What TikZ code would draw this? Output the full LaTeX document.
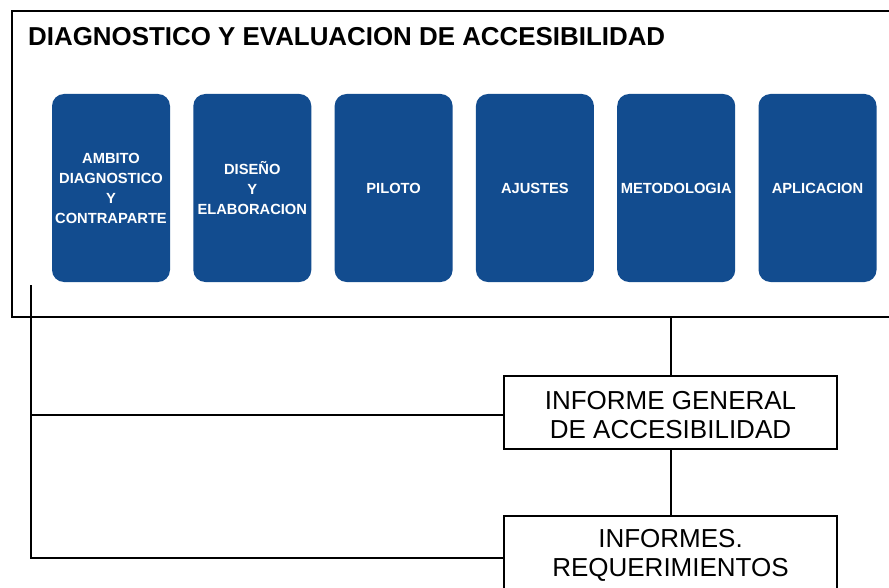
\documentclass[tikz,border=0pt]{standalone}
\usepackage{fontspec}
\setmainfont{Liberation Sans}
\definecolor{boxblue}{RGB}{18,76,143}
\begin{document}
\begin{tikzpicture}[x=1pt,y=-1pt,
  frame/.style={draw=black,line width=2pt,inner sep=0pt,anchor=north west,
    minimum width=950pt,minimum height=306pt},
  stage/.style={fill=boxblue,rounded corners=12pt,minimum width=118pt,minimum height=188pt,
    inner sep=0pt,text=white,align=center,font=\fontsize{14.7}{20}\selectfont\bfseries},
  report/.style={draw=black,line width=2pt,fill=white,minimum width=333pt,minimum height=73pt,
    inner sep=0pt},
  reporttext/.style={inner sep=0pt,align=center,font=\fontsize{26}{29}\selectfont,yshift=-2.5pt},
  link/.style={draw=black,line width=2pt}]
\useasboundingbox (0,0) rectangle (889,588);
\clip (0,0) rectangle (889,588);
\node[frame] (F) at (11,10) {};
\node[anchor=base west,inner sep=0pt,font=\fontsize{25.9}{30}\selectfont\bfseries] (T) at (28,45.7)
  {DIAGNOSTICO Y EVALUACION DE ACCESIBILIDAD};
\node[stage] (s1) at (111,188) {AMBITO\\DIAGNOSTICO\\Y\\CONTRAPARTE};
\node[stage] (s2) at (252.3,188) {DISEÑO\\Y\\ELABORACION};
\node[stage] (s3) at (393.6,188) {PILOTO};
\node[stage] (s4) at (534.9,188) {AJUSTES};
\node[stage] (s5) at (676.2,188) {METODOLOGIA};
\node[stage] (s6) at (817.5,188) {APLICACION};
\node[report] (inf) at (670.5,412.5) {};
\node[reporttext] (infT) at (inf.center) {INFORME GENERAL\\DE ACCESIBILIDAD};
\node[report] (req) at (670.5,552.5) {};
\node[reporttext] (reqT) at (req.center) {INFORMES.\\REQUERIMIENTOS};
\coordinate (L) at (31,285);
\draw[link] (inf.north |- F.south) -- (inf.north);
\draw[link] (inf.south) -- (req.north);
\draw[link] (L) |- ([yshift=-2.8pt]inf.west);
\draw[link] (L) |- ([yshift=-5.8pt]req.west);
\end{tikzpicture}
\end{document}
